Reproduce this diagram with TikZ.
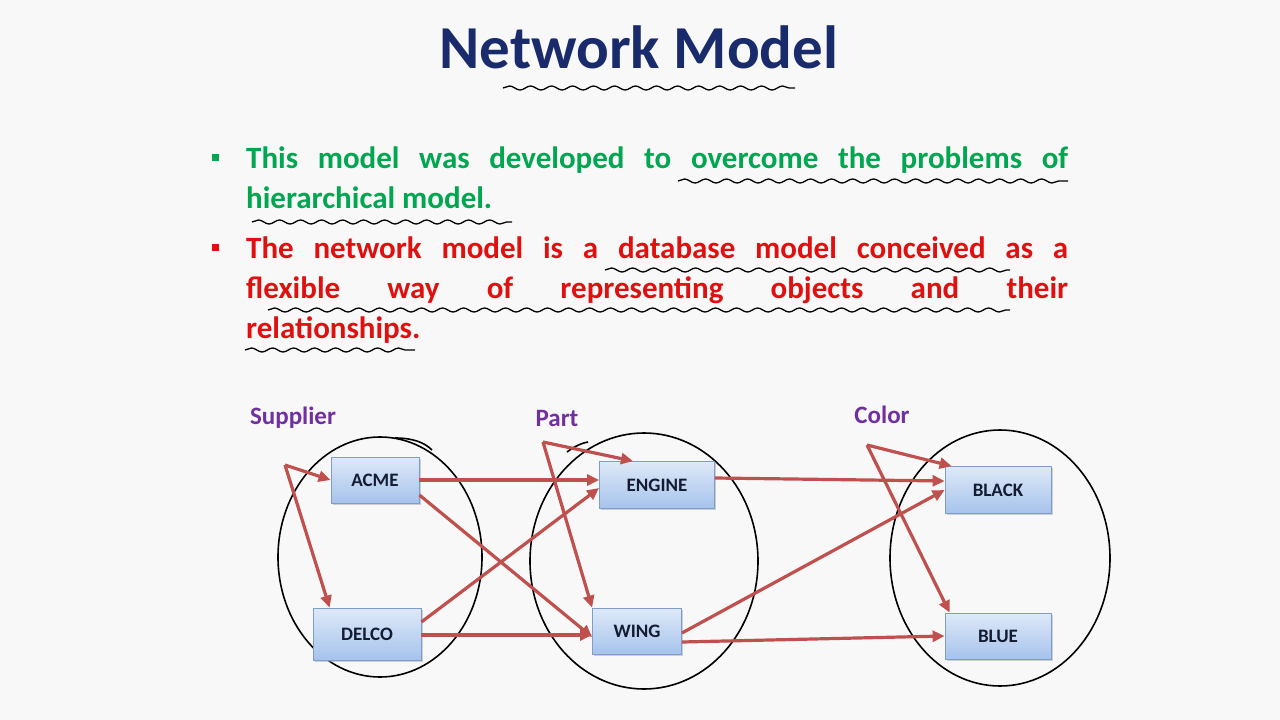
\documentclass[tikz,border=0pt]{standalone}
\usepackage{fontspec}
\setmainfont{Carlito}
\usetikzlibrary{arrows.meta,shadows,decorations.pathmorphing}
\definecolor{bg}{RGB}{248,248,248}
\definecolor{navy}{RGB}{26,43,107}
\definecolor{bgreen}{RGB}{0,166,80}
\definecolor{bred}{RGB}{224,16,16}
\definecolor{lab}{RGB}{112,48,160}
\definecolor{arr}{RGB}{192,80,77}
\definecolor{boxtop}{RGB}{222,233,248}
\definecolor{boxbot}{RGB}{166,195,236}
\definecolor{boxline}{RGB}{126,156,204}
\definecolor{boxtext}{RGB}{20,28,50}
\tikzset{
  entity/.style={draw=boxline, line width=0.8pt, top color=boxtop, bottom color=boxbot,
    font=\fontsize{19}{21}\selectfont\bfseries, text=boxtext, inner sep=0pt,
    drop shadow={shadow xshift=1.5pt, shadow yshift=-1.5pt, fill=black!35, opacity=0.5}},
  link/.style={draw=arr, line width=3.2pt, -{Triangle[length=12pt,width=11pt]}},
  grp/.style={font=\fontsize{25}{27}\selectfont\bfseries, text=lab},
  wavy/.style={draw=black, line width=1.3pt, decorate,
    decoration={snake, amplitude=2pt, segment length=21pt}},
  hand/.style={draw=black, line width=1.6pt},
  bullet/.style={fill=#1, minimum size=7pt, inner sep=0pt},
  para/.style={anchor=base west, text width=822pt, align=justify, inner sep=0pt,
    font=\fontsize{31}{40}\selectfont\bfseries}
}
\begin{document}
\begin{tikzpicture}[x=1pt,y=-1pt]
\useasboundingbox[fill=bg] (0,0) rectangle (1280,720);
% title
\node[font=\fontsize{61}{63}\selectfont\bfseries, text=navy, anchor=base] (title) at (639,68) {Network Model};
\draw[wavy] (503,88) -- (795,88);
% bullets
\node[bullet=bgreen] (b1) at (215,157) {};
\node[bullet=bred] (b2) at (215,247) {};
\node[para, text=bgreen] (p1) at (246,168) {This model was developed to overcome the problems of\linebreak hierarchical model.};
\node[para, text=bred] (p2) at (246,258) {The network model is a database model conceived as a\linebreak flexible way of representing objects and their\linebreak relationships.};
\draw[wavy] (678,181) -- (1068,181);
\draw[wavy] (252,222) -- (512,222);
\draw[wavy] (605,270) -- (1010,270);
\draw[wavy] (268,310) -- (1010,310);
\draw[wavy] (245,350) -- (415,350);
% group labels
\node[grp] (lsup) at (293,418) {Supplier};
\node[grp] (lpart) at (557,418) {Part};
\node[grp] (lcol) at (882,415) {Color};
% hand-drawn ellipses
\draw[hand] (380,557) ellipse [x radius=102, y radius=120];
\draw[hand] (395,438) .. controls (412,438) and (424,442) .. (432,450);
\draw[hand] (644,561) ellipse [x radius=114, y radius=128];
\draw[hand] (567,452) .. controls (575,446) and (582,443) .. (588,442);
\draw[hand] (1000,558) ellipse [x radius=110, y radius=128];
% boxes
\node[entity, minimum width=88pt, minimum height=46pt] (acme) at (375,480) {ACME};
\node[entity, minimum width=108pt, minimum height=52pt] (delco) at (367,634) {DELCO};
\node[entity, minimum width=115pt, minimum height=47pt] (engine) at (657,485) {ENGINE};
\node[entity, minimum width=89pt, minimum height=46pt] (wing) at (637,631) {WING};
\node[entity, minimum width=106pt, minimum height=47pt] (black) at (998,490) {BLACK};
\node[entity, minimum width=106pt, minimum height=46pt] (blue) at (998,636) {BLUE};
% fan sources
\coordinate (ssrc) at (285,465);
\coordinate (psrc) at (543,442);
\coordinate (csrc) at (867,445);
% connectors
\draw[link] (ssrc) -- (acme.west);
\draw[link] (ssrc) -- ([xshift=17pt]delco.north west);
\draw[link] (psrc) -- ([xshift=-24pt]engine.north);
\draw[link] (psrc) -- (wing.north west);
\draw[link] (csrc) -- ([xshift=7pt]black.north west);
\draw[link] (csrc) -- ([xshift=5pt]blue.north west);
\draw[link] (acme.east) -- (engine.west |- acme.east);
\draw[link] ([yshift=-15pt]acme.east) -- ([yshift=-6pt]wing.west);
\draw[link] ([yshift=12pt]delco.east) -- ([yshift=-3pt]engine.west);
\draw[link] ([yshift=-1pt]delco.east) -- ([yshift=-4pt]wing.west);
\draw[link] ([yshift=7pt]engine.east) -- ([yshift=9pt]black.west);
\draw[link] ([yshift=-2pt]wing.east) -- (black.west);
\draw[link] ([yshift=-11pt]wing.east) -- (blue.west);
\end{tikzpicture}
\end{document}
